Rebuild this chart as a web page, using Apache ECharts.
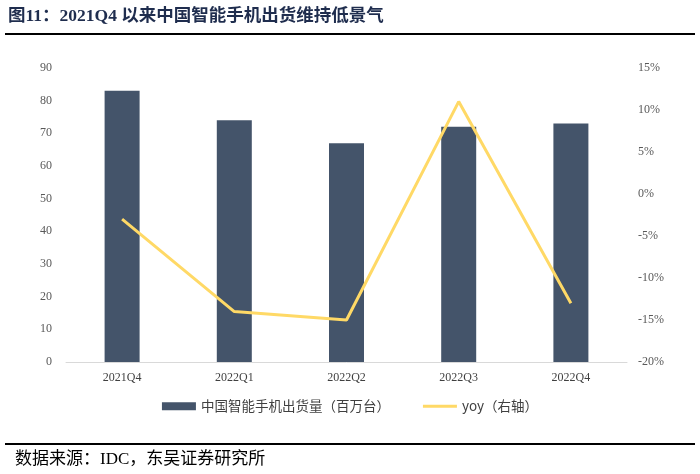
<!DOCTYPE html>
<html><head><meta charset="utf-8">
<script src="https://cdn.jsdelivr.net/npm/echarts@6/dist/echarts.min.js"></script>
<style>html,body{margin:0;padding:0;background:#fff}#c{width:700px;height:474px}</style>
</head><body><div id="c"></div>
<script>
const categories = ['2021Q4','2022Q1','2022Q2','2022Q3','2022Q4'];
const shipments = [83, 74, 67, 72, 73];
const yoy = [-3, -14, -15, 11, -13];
const leftTicks = [0,10,20,30,40,50,60,70,80,90];
const rightTicks = ['-20%','-15%','-10%','-5%','0%','5%','10%','15%'];

const chart = echarts.init(document.getElementById('c'));
const serif = '"Liberation Serif","Times New Roman",serif';
chart.setOption({
  animation: false,
  graphic: [
    {type:'text', left: 8, top: 8, style:{text:'图11：2021Q4 以来中国智能手机出货维持低景气', font:'bold 17.5px "Liberation Serif","Noto Sans CJK SC",serif', fill:'#1f2d4e'}},
    {type:'rect', shape:{x:5,y:33,width:690,height:2}, style:{fill:'#000'}},
    {type:'rect', shape:{x:5,y:443,width:690,height:2}, style:{fill:'#000'}},
    {type:'text', left: 15, top: 451, style:{text:'数据来源：IDC，东吴证券研究所', font:'17px "Liberation Serif","Noto Sans CJK SC",serif', fill:'#000'}}
  ],
  grid: {left: 66, right: 73, top: 68, bottom: 112},
  legend: {
    bottom: 56, left: 'center',
    itemWidth: 34, itemHeight: 8, itemGap: 33,
    textStyle: {fontFamily: '"Noto Sans CJK SC",sans-serif', fontSize: 13.5, color: '#404040'},
    data: [
      {name:'中国智能手机出货量（百万台）', icon:'rect'},
      {name:'yoy（右轴）', icon:'path://M0,0 L34,0 L34,3 L0,3 Z'}
    ]
  },
  xAxis: {
    type: 'category', data: categories,
    axisLine: {lineStyle:{color:'#d9d9d9'}},
    axisTick: {show:false},
    axisLabel: {fontFamily: serif, fontSize: 12, color:'#404040', margin: 10}
  },
  yAxis: [
    {type:'value', min: leftTicks[0], max: leftTicks[leftTicks.length-1], interval: 10,
     splitLine:{show:false}, axisLine:{show:false}, axisTick:{show:false},
     axisLabel:{fontFamily: serif, fontSize: 12, color:'#595959', margin: 14}},
    {type:'value', min: -20, max: 15, interval: 5,
     splitLine:{show:false}, axisLine:{show:false}, axisTick:{show:false},
     axisLabel:{fontFamily: serif, fontSize: 12, color:'#595959', margin: 11,
       formatter: v => rightTicks[Math.round((v + 20)/5)] }}
  ],
  series: [
    {name:'中国智能手机出货量（百万台）', type:'bar', data: shipments, barWidth: 35,
     itemStyle:{color:'#44546a'}},
    {name:'yoy（右轴）', type:'line', yAxisIndex: 1, data: yoy, symbol:'none',
     lineStyle:{color:'#ffd966', width: 3}, itemStyle:{color:'#ffd966'}}
  ]
});
</script></body></html>
